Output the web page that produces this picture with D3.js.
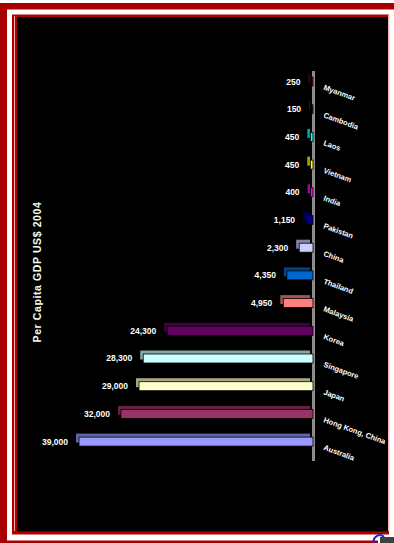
<!DOCTYPE html>
<html>
<head>
<meta charset="utf-8">
<script src="https://cdn.jsdelivr.net/npm/d3@7"></script>
<style>
  html, body { margin: 0; padding: 0; background: #ffffff; }
  svg { display: block; }
  text { font-family: Arial, "Liberation Sans", sans-serif; }
</style>
</head>
<body>
<script>
// ---- data (top to bottom) ----
const categories = ["Myanmar", "Cambodia", "Laos", "Vietnam", "India", "Pakistan", "China",
  "Thailand", "Malaysia", "Korea", "Singapore", "Japan", "Hong Kong, China", "Australia"];
const values = [250, 150, 450, 450, 400, 1150, 2300, 4350, 4950, 24300, 28300, 29000, 32000, 39000];
const colors = ["#800000", "#800080", "#00ffff", "#ffff00", "#ff00ff", "#000080", "#ccccff",
  "#0066cc", "#ff8080", "#660066", "#ccffff", "#ffffcc", "#993366", "#9999ff"];
const title = "Per Capita GDP US$ 2004";

const W = 394, H = 543;
const svg = d3.select("body").append("svg").attr("width", W).attr("height", H);

// ---- frame ----
svg.append("rect").attr("x", 0).attr("y", 3).attr("width", W).attr("height", 6.5).attr("fill", "#a80000");
svg.append("rect").attr("x", 0).attr("y", 3).attr("width", 7).attr("height", H - 3).attr("fill", "#a80000");
svg.append("rect").attr("x", 0).attr("y", 540.5).attr("width", 378).attr("height", 2.5).attr("fill", "#a80000");
svg.append("rect").attr("x", 12).attr("y", 14.5).attr("width", 377).attr("height", 520).attr("fill", "#b00000");
svg.append("rect").attr("x", 14).attr("y", 16).attr("width", 1).attr("height", 515).attr("fill", "#f0b0b0");
svg.append("rect").attr("x", 388).attr("y", 15).attr("width", 1.5).attr("height", 516).attr("fill", "#f4b8b8");
svg.append("rect").attr("x", 17).attr("y", 17).attr("width", 371).attr("height", 514.5).attr("fill", "#000000");
// small corner widget bottom-right
svg.append("path").attr("d", "M374,543 A6,6 0 0 1 384,537").attr("fill", "none").attr("stroke", "#1030d0").attr("stroke-width", 2);
svg.append("rect").attr("x", 380).attr("y", 537).attr("width", 14).attr("height", 6).attr("fill", "#404040");

// ---- scales ----
const x = d3.scaleLinear().domain([0, 39000]).range([313, 79]);
const y = d3.scaleBand().domain(categories).range([77, 446.1]).paddingInner(0.675).paddingOuter(0);
const bh = y.bandwidth();

// axis (grey baseline)
svg.append("rect").attr("x", 312).attr("y", 71).attr("width", 3).attr("height", 390).attr("fill", "#8c8c8c");

const rows = categories.map((c, i) => ({ c, v: values[i], col: colors[i] }));

const g = svg.append("g");
// depth face (offset behind)
g.selectAll("rect.back").data(rows).join("rect")
  .attr("class", "back")
  .attr("x", d => x(d.v) - 3)
  .attr("y", d => y(d.c) - 3.5)
  .attr("width", d => x(0) - x(d.v))
  .attr("height", bh)
  .attr("fill", d => d3.color(d.col).darker(1.2));
// front face
g.selectAll("rect.front").data(rows).join("rect")
  .attr("class", "front")
  .attr("x", d => x(d.v))
  .attr("y", d => y(d.c))
  .attr("width", d => x(0) - x(d.v))
  .attr("height", bh)
  .attr("fill", d => d.col)
  .attr("stroke", "#000")
  .attr("stroke-width", 0.8);

// value labels
const fmt = d3.format(",");
g.selectAll("text.val").data(rows).join("text")
  .attr("class", "val")
  .attr("x", d => x(d.v) - 11)
  .attr("y", d => y(d.c) + bh / 2 + 3)
  .attr("text-anchor", "end")
  .attr("font-size", 8.5)
  .attr("font-weight", "bold")
  .attr("fill", "#ffffff")
  .text(d => fmt(d.v));

// category labels (slanted)
g.selectAll("text.cat").data(rows).join("text")
  .attr("class", "cat")
  .attr("transform", d => `translate(323,${y(d.c) + bh / 2 + 8}) rotate(20)`)
  .attr("font-size", 7.5)
  .attr("font-weight", "bold")
  .attr("fill", "#ffffff")
  .text(d => d.c);

// title (vertical)
svg.append("text")
  .attr("transform", "translate(41,272) rotate(-90)")
  .attr("text-anchor", "middle")
  .attr("font-size", 10.5)
  .attr("font-weight", "bold")
  .attr("letter-spacing", 0.6)
  .attr("fill", "#f0fff0")
  .text(title);
</script>
</body>
</html>
